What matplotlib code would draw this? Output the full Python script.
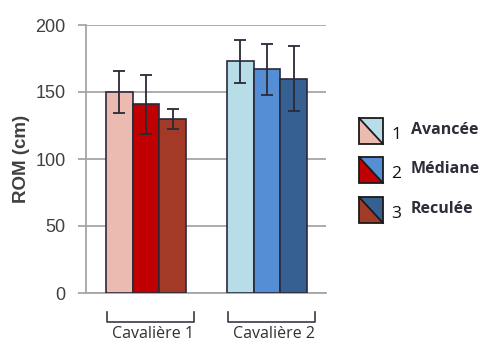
import matplotlib
matplotlib.use("Agg")
import matplotlib.pyplot as plt
from matplotlib.patches import Polygon
import matplotlib.transforms as mtransforms
import numpy as np

plt.rcParams["font.family"] = ["Liberation Sans", "DejaVu Sans"]

# data
groups = ["Cavalière 1", "Cavalière 2"]
positions = ["Avancée", "Médiane", "Reculée"]
cav1_mean = [150, 141, 130]
cav1_err = [16, 22, 7.5]
cav2_mean = [173, 167, 160]
cav2_err = [16, 19, 24]

cav1_colors = ["#ebbab1", "#c00000", "#a23a27"]
cav2_colors = ["#b7dde8", "#558ed5", "#366092"]
edge = "#2a2a38"

W, H = 479, 341
fig = plt.figure(figsize=(W / 100, H / 100), dpi=100)
ax = fig.add_axes([86 / W, 48 / H, 240 / W, 268 / H])

width = 0.22
centers = np.arange(len(groups))
offsets = np.array([-1, 0, 1]) * width

for gi, (means, errs, cols) in enumerate([(cav1_mean, cav1_err, cav1_colors),
                                          (cav2_mean, cav2_err, cav2_colors)]):
    x = centers[gi] + offsets
    ax.bar(x, means, width=width, color=cols, edgecolor=edge, linewidth=1.2, zorder=3)
    ax.errorbar(x, means, yerr=errs, fmt="none", ecolor="#2a2a38",
                elinewidth=1.3, capsize=4, capthick=1.3, zorder=4)

ax.set_ylim(0, 200)
ax.set_xlim(-0.496, 1.488)
ax.set_yticks([0, 50, 100, 150, 200])
ax.yaxis.grid(True, color="#a6a6a6", linewidth=1.3, zorder=0)
ax.set_axisbelow(True)
for s in ["top", "right"]:
    ax.spines[s].set_visible(False)
ax.spines["left"].set_color("#a6a6a6")
ax.spines["left"].set_linewidth(1.3)
ax.spines["bottom"].set_color("#a6a6a6")
ax.spines["bottom"].set_linewidth(1.3)
ax.tick_params(axis="y", length=6, width=1.3, color="#a6a6a6",
               labelsize=13, labelcolor="#404040", pad=8.5)
ax.set_xticks([])
ax.set_ylabel("ROM (cm)", fontsize=13.5, fontweight="bold", color="#404040", labelpad=4)

# group brackets under the axis
trans = mtransforms.blended_transform_factory(ax.transData, ax.transAxes)
for gi, name in enumerate(groups):
    x0, x1 = centers[gi] - 0.32, centers[gi] + 0.40
    ax.plot([x0, x0, x1, x1], [-0.071, -0.108, -0.108, -0.071], color="#3a3a48",
            linewidth=1.2, transform=trans, clip_on=False)
    ax.text((x0 + x1) / 2 + 0.02, -0.152, name, transform=trans, ha="center", va="center",
            fontsize=11.5, color="#303030", family="Open Sans")

# legend: squares split along the diagonal (red lower-left, blue upper-right)
def px(x, y):
    return (x / W, 1 - y / H)

tops = [118, 157, 197]
for i, name in enumerate(positions):
    xl, xr = 359, 383
    yt, yb = tops[i], tops[i] + 26
    lower = Polygon([px(xl, yt), px(xl, yb), px(xr, yb)], closed=True,
                    facecolor=cav1_colors[i], edgecolor="none", transform=fig.transFigure)
    upper = Polygon([px(xl, yt), px(xr, yt), px(xr, yb)], closed=True,
                    facecolor=cav2_colors[i], edgecolor="none", transform=fig.transFigure)
    frame = Polygon([px(xl, yt), px(xr, yt), px(xr, yb), px(xl, yb)], closed=True,
                    facecolor="none", edgecolor="#1a1a1a", linewidth=1.3,
                    transform=fig.transFigure)
    fig.add_artist(lower)
    fig.add_artist(upper)
    fig.add_artist(frame)
    fig.add_artist(plt.Line2D([xl / W, xr / W], [1 - yt / H, 1 - yb / H],
                              color="#1a1a1a", linewidth=1.3, transform=fig.transFigure))
    ym = (yt + yb) / 2
    fig.text(391 / W, 1 - (ym + 4) / H, str(i + 1), fontsize=12.5, color="#111111",
             ha="left", va="center", family="Open Sans")
    fig.text(411 / W, 1 - (ym - 1) / H, name, fontsize=11.5, fontweight="bold",
             color="#2e2e3a", ha="left", va="center", family="Open Sans")

fig.savefig("out.png", dpi=100)
